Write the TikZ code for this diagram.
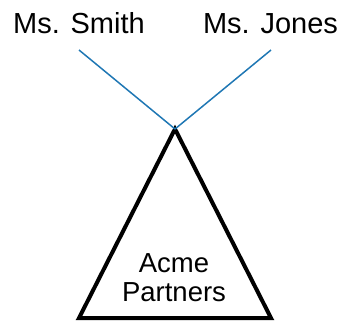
\documentclass[tikz,border=0pt]{standalone}
\usepackage{fontspec}
\setmainfont{Liberation Sans}
\definecolor{linkblue}{RGB}{31,119,180}
\begin{document}
\begin{tikzpicture}[x=1pt,y=-1pt,
  partner/.style={font=\fontsize{29}{33}\selectfont, inner sep=0pt, anchor=base},
  firm/.style={font=\fontsize{27.5}{29}\selectfont, align=center, inner sep=0pt},
  link/.style={draw=linkblue, line width=1.5pt},
  entity/.style={draw=black, line width=4pt, line join=miter}]
  \useasboundingbox (0,0) rectangle (341,322);
  % the two partners
  \node[partner] (smith) at (79,33) {Ms. Smith};
  \node[partner] (jones) at (270.5,33) {Ms. Jones};
  \coordinate (smithfoot) at (79,50);
  \coordinate (jonesfoot) at (271,50);
  % the partnership
  \coordinate (apex) at (175,129);
  \coordinate (bl) at (79,318);
  \coordinate (br) at (271,318);
  \draw[entity] (apex) -- (br) -- (bl) -- cycle;
  \node[firm] (acme) at (174,278) {Acme\\Partners};
  % ownership links
  \draw[link] (smithfoot) -- (apex);
  \draw[link] (jonesfoot) -- (apex);
\end{tikzpicture}
\end{document}
